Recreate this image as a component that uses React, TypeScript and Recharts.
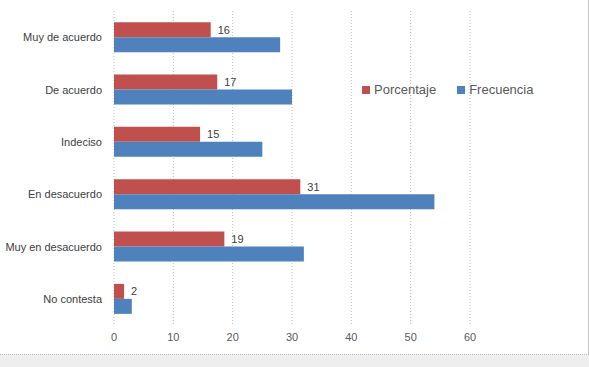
import React from "react";
import { BarChart, Bar, XAxis, YAxis, CartesianGrid, LabelList } from "recharts";

const categories = [
  "Muy de acuerdo",
  "De acuerdo",
  "Indeciso",
  "En desacuerdo",
  "Muy en desacuerdo",
  "No contesta",
];
const porcentaje = [16.3, 17.4, 14.5, 31.4, 18.6, 1.7];
const frecuencia = [28, 30, 25, 54, 32, 3];
const xTicks = [0, 10, 20, 30, 40, 50, 60];

const RED = "#C0504D";
const BLUE = "#4F81BD";
const FONT = "'Liberation Sans', Arial, sans-serif";

const data = categories.map((name, i) => ({
  name,
  porcentaje: porcentaje[i],
  frecuencia: frecuencia[i],
}));

// single-line category labels, right aligned against the axis
function CatTick(props: any) {
  const { x, y, payload } = props;
  return (
    <text x={x} y={y} dy={4} textAnchor="end" fontSize={11} fill="#404040" fontFamily={FONT}>
      {payload.value}
    </text>
  );
}

function ValTick(props: any) {
  const { x, y, payload } = props;
  return (
    <text x={x} y={y} dy={8} textAnchor="middle" fontSize={11} fill="#595959" fontFamily={FONT}>
      {payload.value}
    </text>
  );
}

function LegendBox() {
  const item = (color: string, label: string) => (
    <div style={{ display: "flex", alignItems: "center", marginRight: 21 }}>
      <span style={{ width: 8, height: 8, background: color, display: "inline-block", marginRight: 4 }} />
      <span>{label}</span>
    </div>
  );
  return (
    <div
      style={{
        position: "absolute",
        left: 362,
        top: 82,
        display: "flex",
        fontFamily: FONT,
        fontSize: 13,
        color: "#595959",
      }}
    >
      {item(RED, "Porcentaje")}
      {item(BLUE, "Frecuencia")}
    </div>
  );
}

export default function App() {
  return (
    <div style={{ position: "absolute", left: 0, top: 0, width: 589, height: 367, background: "#fff" }}>
      <BarChart
        width={589}
        height={355}
        data={data}
        layout="vertical"
        margin={{ top: 11, right: 119, left: 0, bottom: 0 }}
        barCategoryGap="21.4%"
        barGap={0}
      >
        <CartesianGrid horizontal={false} stroke="#bdbdbd" strokeDasharray="1 2" />
        <XAxis
          type="number"
          domain={[0, 60]}
          ticks={xTicks}
          axisLine={false}
          tickLine={false}
          tick={<ValTick />}
        />
        <YAxis
          type="category"
          dataKey="name"
          width={114}
          axisLine={false}
          tickLine={false}
          tickMargin={6}
          tick={<CatTick />}
        />
        <Bar dataKey="porcentaje" fill={RED} isAnimationActive={false}>
          <LabelList
            dataKey="porcentaje"
            position="right"
            offset={7}
            formatter={(v: number) => Math.round(v)}
            style={{ fontSize: 11, fill: "#404040", fontFamily: FONT }}
          />
        </Bar>
        <Bar dataKey="frecuencia" fill={BLUE} isAnimationActive={false} />
      </BarChart>
      <LegendBox />
      <div style={{ position: "absolute", left: 588, top: 0, width: 1, height: 355, background: "#c8c8c8" }} />
      <div
        style={{
          position: "absolute",
          left: 0,
          top: 354,
          width: 589,
          height: 13,
          background: "#eeeeee",
          borderTop: "1px dotted #bbbbbb",
          boxSizing: "border-box",
        }}
      />
    </div>
  );
}
